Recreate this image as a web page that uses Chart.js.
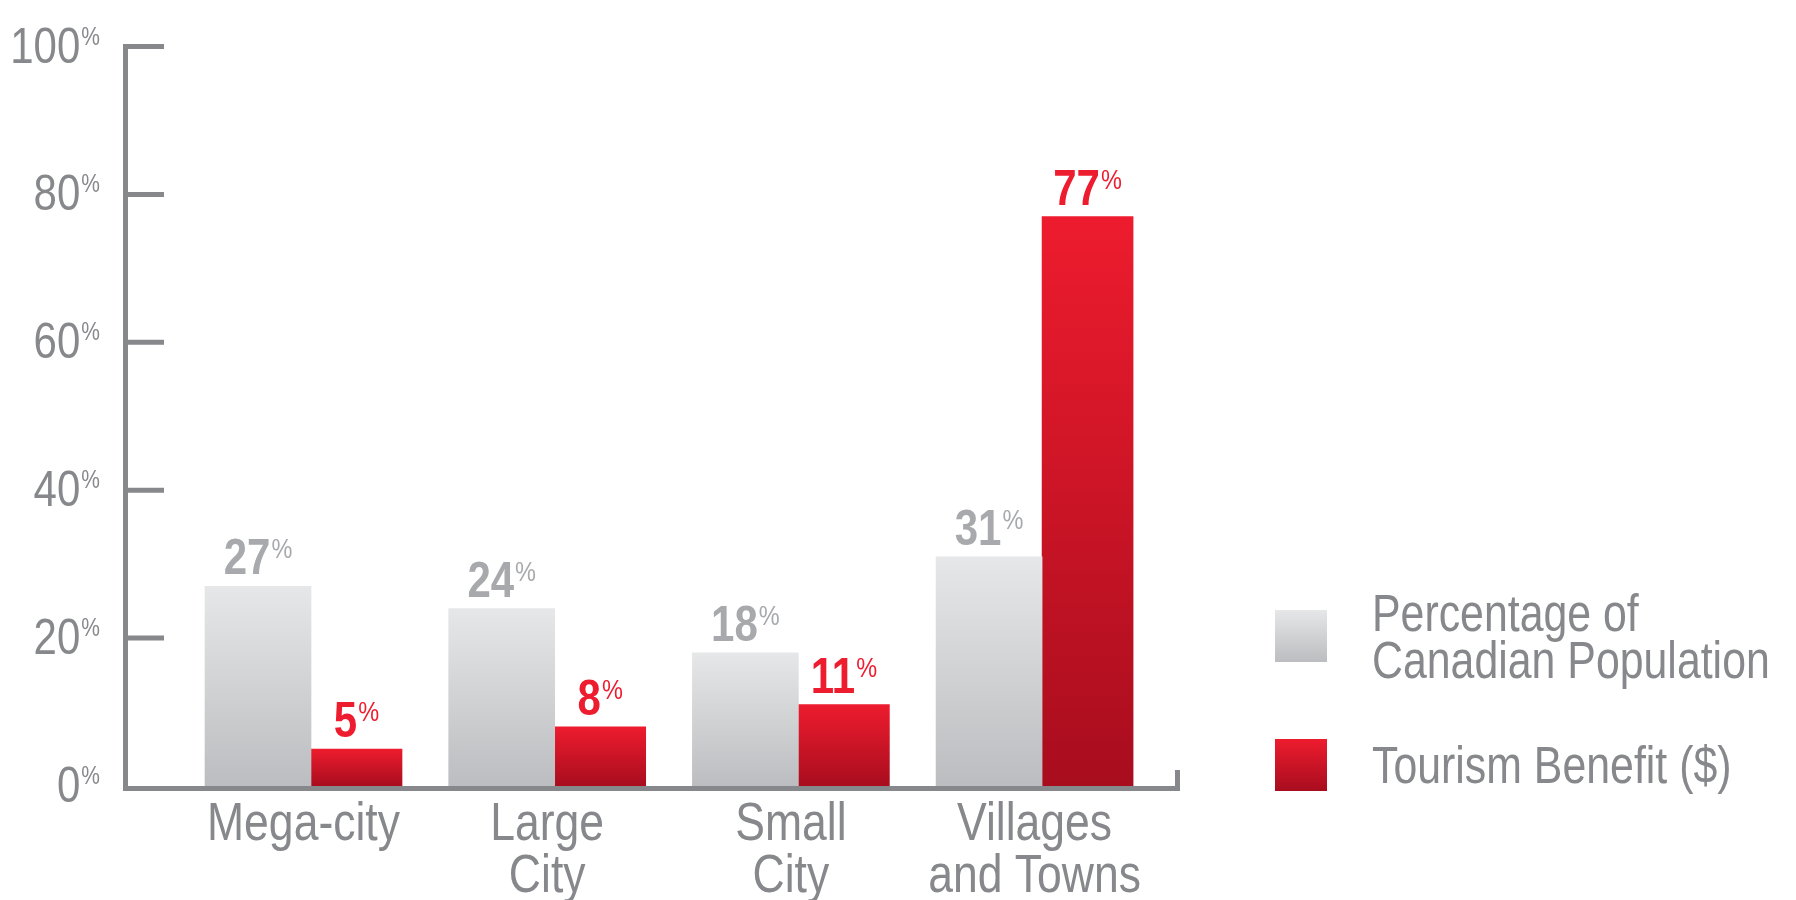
<!DOCTYPE html>
<html>
<head>
<meta charset="utf-8">
<script src="https://cdn.jsdelivr.net/npm/chart.js@4.4.1/dist/chart.umd.min.js"></script>
<style>
  html, body { margin: 0; padding: 0; background: #fff; }
  #wrap { width: 1796px; height: 900px; }
</style>
</head>
<body>
<div id="wrap"><canvas id="tourismChart"></canvas></div>
<script>
// data
const categories = [['Mega-city'], ['Large', 'City'], ['Small', 'City'], ['Villages', 'and Towns']];
const populationShare = [27, 24, 18, 31];
const tourismBenefit = [5, 8, 11, 77];
const yTicks = [0, 20, 40, 60, 80, 100];
const seriesNames = [['Percentage of', 'Canadian Population'], ['Tourism Benefit ($)']];

const FONT = "'Liberation Sans', Arial, sans-serif";
const NARROW = 0.84;   // squeeze text sideways, the original uses a condensed face
const AXIS = '#87888c';
const TEXT = '#87888b';
const GRAY = ['#e6e7e8', '#bbbdc0'];
const RED = ['#ed1c2e', '#a80d1e'];
const LABEL_COLORS = ['#a7a9ac', '#ed1c2e'];

function vGradient(ctx, y0, y1, stops) {
    const g = ctx.createLinearGradient(0, y0, 0, y1);
    g.addColorStop(0, stops[0]);
    g.addColorStop(1, stops[1]);
    return g;
}

// one gradient per bar, from its top down to the zero line
function barFill(stops) {
    return c => {
        const chart = c.chart;
        if (!chart.chartArea || c.type !== 'data') return stops[0];
        const y = chart.scales.y;
        return vGradient(chart.ctx, y.getPixelForValue(c.parsed.y), y.getPixelForValue(0), stops);
    };
}

function textWidth(ctx, t) {
    return ctx.measureText(t).width * NARROW;
}

// left-aligned narrow text
function narrowText(ctx, t, x, y) {
    ctx.save();
    ctx.translate(x, y);
    ctx.scale(NARROW, 1);
    ctx.textAlign = 'left';
    ctx.fillText(t, 0, 0);
    ctx.restore();
}

// "27" big + small "%" with tops lined up
function pctText(ctx, num, x, baseline, align, big, small, color) {
    ctx.fillStyle = color;
    ctx.textBaseline = 'alphabetic';
    ctx.font = big.font;
    const w1 = textWidth(ctx, num);
    ctx.font = small.font;
    const w2 = textWidth(ctx, '%');
    const total = w1 + 1 + w2;
    const left = align === 'right' ? x - total : x - total / 2;
    ctx.font = big.font;
    narrowText(ctx, num, left, baseline);
    ctx.font = small.font;
    narrowText(ctx, '%', left + w1 + 1, baseline - big.cap + small.cap);
}

const axisFrame = {
    id: 'axisFrame',
    afterDatasetsDraw(chart) {
        const { ctx, chartArea: a } = chart;
        const y = chart.scales.y;
        ctx.save();

        // axes
        ctx.strokeStyle = AXIS;
        ctx.lineWidth = 5;
        ctx.beginPath();
        ctx.moveTo(a.left - 2.5, y.getPixelForValue(100) - 2.5);
        ctx.lineTo(a.left - 2.5, a.bottom + 5);
        ctx.moveTo(a.left - 5, a.bottom + 2.5);
        ctx.lineTo(a.right, a.bottom + 2.5);
        ctx.moveTo(a.right - 2.5, a.bottom + 5);
        ctx.lineTo(a.right - 2.5, a.bottom - 16);
        yTicks.forEach(v => {
            if (v === 0) return;
            const p = y.getPixelForValue(v);
            ctx.moveTo(a.left - 5, p);
            ctx.lineTo(a.left + 36, p);
        });
        ctx.stroke();

        // y tick labels
        const tickBig = { font: '50px ' + FONT, cap: 36 };
        const tickSmall = { font: '25px ' + FONT, cap: 18 };
        yTicks.forEach(v => {
            pctText(ctx, String(v), a.left - 28, y.getPixelForValue(v) + 16, 'right', tickBig, tickSmall, TEXT);
        });

        // category labels under each group
        const gray = chart.getDatasetMeta(0).data;
        const red = chart.getDatasetMeta(1).data;
        ctx.fillStyle = TEXT;
        ctx.font = '53px ' + FONT;
        ctx.textBaseline = 'alphabetic';
        categories.forEach((lines, i) => {
            const l = gray[i].x - gray[i].width / 2;
            const r = red[i].x + red[i].width / 2;
            lines.forEach((t, k) => {
                narrowText(ctx, t, (l + r) / 2 - textWidth(ctx, t) / 2, a.bottom + 54 + k * 52);
            });
        });

        // value labels over the bars
        const valBig = { font: 'bold 50px ' + FONT, cap: 36 };
        const valSmall = { font: '28px ' + FONT, cap: 20 };
        chart.data.datasets.forEach((ds, d) => {
            chart.getDatasetMeta(d).data.forEach((bar, i) => {
                pctText(ctx, String(ds.data[i].y), bar.x, bar.y - 12, 'center', valBig, valSmall, LABEL_COLORS[d]);
            });
        });

        // legend
        const lx = a.right + 95;
        const rows = [a.bottom - 150, a.bottom - 21];
        const fills = [GRAY, RED];
        ctx.font = '51px ' + FONT;
        seriesNames.forEach((lines, d) => {
            const cy = rows[d];
            ctx.fillStyle = vGradient(ctx, cy - 26, cy + 26, fills[d]);
            ctx.fillRect(lx, cy - 26, 52, 52);
            ctx.fillStyle = TEXT;
            const top = cy - (36 + (lines.length - 1) * 47) / 2;
            lines.forEach((t, k) => narrowText(ctx, t, lx + 97, top + 36 + k * 47));
        });

        ctx.restore();
    }
};

const ctx = document.getElementById('tourismChart').getContext('2d');
new Chart(ctx, {
    type: 'bar',
    data: {
        datasets: [{
            label: seriesNames[0].join(' '),
            data: populationShare.map((v, i) => ({ x: i, y: v })),
            backgroundColor: barFill(GRAY),
            barThickness: 106
        }, {
            label: seriesNames[1].join(' '),
            data: tourismBenefit.map((v, i) => ({ x: i, y: v })),
            backgroundColor: barFill(RED),
            barThickness: 91
        }]
    },
    options: {
        responsive: true,
        maintainAspectRatio: false,
        animation: false,
        layout: { padding: { left: 128, right: 616, top: 46.5, bottom: 114 } },
        scales: {
            x: { type: 'linear', display: false, offset: false, bounds: 'data', min: -0.751, max: 3.566 },
            y: { display: false, bounds: 'data', min: 0, max: 100 }
        },
        plugins: {
            legend: { display: false },
            tooltip: { enabled: false }
        }
    },
    plugins: [axisFrame]
});
</script>
</body>
</html>
